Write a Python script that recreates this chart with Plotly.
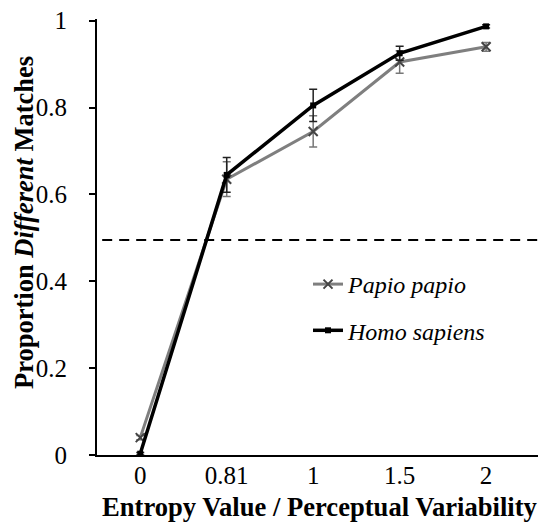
import plotly.graph_objects as go

categories = ["0", "0.81", "1", "1.5", "2"]
papio = [0.04, 0.635, 0.745, 0.905, 0.94]
papio_err = [0.005, 0.04, 0.036, 0.026, 0.01]
homo = [0.003, 0.645, 0.805, 0.925, 0.987]
homo_err = [0.003, 0.04, 0.037, 0.016, 0.004]
chance = 0.495
y_ticks = [0, 0.2, 0.4, 0.6, 0.8, 1]
y_ticktext = ["0", "0.2", "0.4", "0.6", "0.8", "1"]

xpos = list(range(len(categories)))
FONT = "Liberation Serif"

L, R, T, B = 97, 0, 19, 70
W, H = 538, 525
PW, PH = W - L - R, H - T - B


def px_to_paper_x(px):
    return (px - L) / PW


def px_to_paper_y(py):
    return (H - B - py) / PH


fig = go.Figure()
fig.add_trace(go.Scatter(
    x=xpos, y=papio, name="<i>Papio papio</i>", mode="lines+markers", legendgroup="p",
    line=dict(color="#7f7f7f", width=3),
    marker=dict(symbol="x-thin", size=9, color="#444444", line=dict(width=2, color="#444444")),
    error_y=dict(type="data", array=papio_err, color="#777777", thickness=1.5, width=4),
))
fig.add_trace(go.Scatter(
    x=xpos, y=homo, name="<i>Homo sapiens</i>", mode="lines+markers", legendgroup="h",
    line=dict(color="black", width=3.5),
    marker=dict(symbol="square", size=6, color="black"),
    error_y=dict(type="data", array=homo_err, color="#222222", thickness=1.5, width=4),
))
fig.add_shape(type="line", xref="x", yref="y", x0=-0.44, x1=4.6, y0=chance, y1=chance,
              line=dict(color="black", width=2, dash="10px,7px"))

fig.add_annotation(text="<b>Proportion <i>Different</i> Matches</b>", textangle=-90,
                   xref="paper", yref="paper", x=px_to_paper_x(24), y=px_to_paper_y(223),
                   xanchor="center", yanchor="middle", showarrow=False,
                   font=dict(family=FONT, size=26.5, color="black"))
fig.add_annotation(text="<b>Entropy Value / Perceptual Variability</b>",
                   xref="paper", yref="paper", x=px_to_paper_x(320), y=px_to_paper_y(507),
                   xanchor="center", yanchor="middle", showarrow=False,
                   font=dict(family=FONT, size=26.6, color="black"))

fig.update_layout(
    width=W, height=H,
    margin=dict(l=L, r=R, t=T, b=B),
    paper_bgcolor="white", plot_bgcolor="white",
    font=dict(family=FONT, color="black", size=25),
    showlegend=True,
    legend=dict(x=px_to_paper_x(308), y=px_to_paper_y(262), xanchor="left", yanchor="top",
                font=dict(family=FONT, size=24, color="black"),
                bgcolor="rgba(0,0,0,0)", traceorder="grouped", tracegroupgap=12),
    xaxis=dict(
        range=[-0.5, 4.6], tickmode="array", tickvals=xpos, ticktext=categories,
        showgrid=False, zeroline=False, showline=True, linecolor="black", linewidth=2,
        ticks="", tickfont=dict(family=FONT, size=25), automargin=False,
        ticklabelstandoff=-3,
    ),
    yaxis=dict(
        range=[0, 1.004], tickmode="array", tickvals=y_ticks, ticktext=y_ticktext,
        showgrid=False, zeroline=False, showline=True, linecolor="black", linewidth=2,
        ticks="outside", ticklen=6, tickwidth=2, tickcolor="black",
        tickfont=dict(family=FONT, size=25), automargin=False, ticklabelstandoff=17,
    ),
)

fig.write_html("out.html", config={"displayModeBar": False},
               post_script="document.body.style.margin='0';")
